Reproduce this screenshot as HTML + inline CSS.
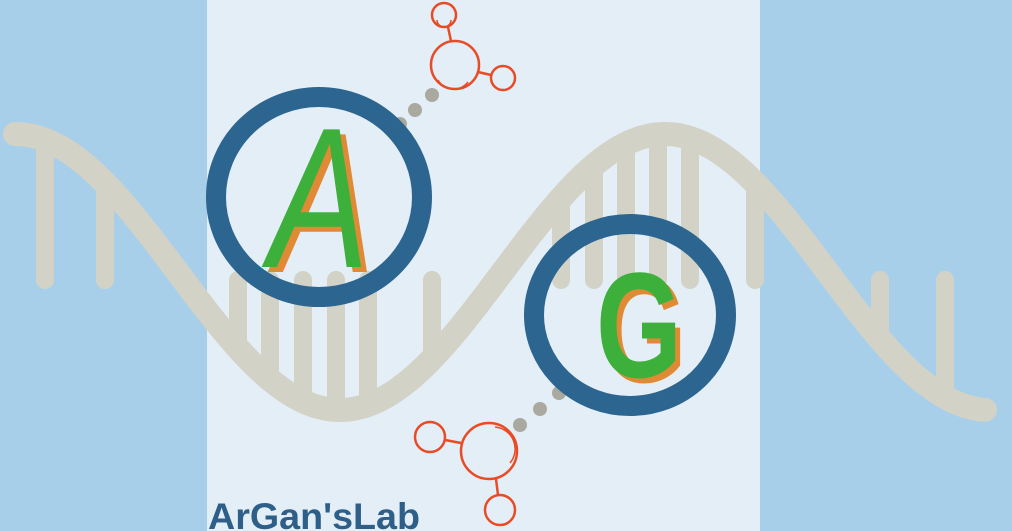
<!DOCTYPE html>
<html><head><meta charset="utf-8"><style>
html,body{margin:0;padding:0;width:1012px;height:531px;overflow:hidden;background:#a8cfea}
svg{display:block}
</style></head><body>
<svg width="1012" height="531" viewBox="0 0 1012 531">
<rect x="0" y="0" width="1012" height="531" fill="#a8cfea"/>
<rect x="207" y="0" width="553" height="531" fill="#e4eef7"/>
<g id="dna" stroke="#d3d2c7" stroke-linecap="round" fill="none"></g>
<g fill="none" stroke="#e84b25" stroke-width="2.5">
<line x1="448" y1="27" x2="451" y2="41"/><line x1="478" y1="72" x2="491" y2="75"/>
<circle cx="444" cy="15" r="12"/><circle cx="455" cy="65" r="24"/><circle cx="503" cy="78" r="12"/>
<path d="M437 20 A7 7 0 0 0 451 20" stroke-width="1.5"/>
<path d="M438 80 A18 18 0 0 0 468 82" stroke-width="1.5"/>
</g>
<g fill="#aaa99f">
<circle cx="432" cy="95" r="7"/><circle cx="415" cy="110" r="7"/><circle cx="400" cy="124" r="7"/>
</g>
<g fill="none" stroke="#e84b25" stroke-width="2.5">
<line x1="445" y1="440" x2="461" y2="443"/><line x1="496" y1="479" x2="498" y2="495"/>
<circle cx="430" cy="437" r="15"/><circle cx="489" cy="451" r="28"/><circle cx="500" cy="510" r="15"/>
<path d="M495 427 A22 22 0 0 1 510 463" stroke-width="1.5"/>
</g>
<g fill="#aaa99f">
<circle cx="559" cy="393" r="7"/><circle cx="540" cy="409" r="7"/><circle cx="520" cy="425" r="7"/>
</g>
<ellipse cx="319" cy="197" rx="103" ry="100" fill="none" stroke="#2c6590" stroke-width="20"/>
<ellipse cx="630" cy="315" rx="96" ry="91" fill="none" stroke="#2c6590" stroke-width="20"/>
<g font-family="Liberation Sans, sans-serif" font-style="italic">
<text x="275" y="272" font-size="200" fill="#e08a35" textLength="100" lengthAdjust="spacingAndGlyphs">A</text>
<text x="269" y="267" font-size="200" fill="#3cb03a" textLength="100" lengthAdjust="spacingAndGlyphs">A</text>
<text x="601" y="382" font-size="150" font-weight="bold" font-style="normal" fill="#e08a35" textLength="86" lengthAdjust="spacingAndGlyphs">G</text>
<text x="596" y="377" font-size="150" font-weight="bold" font-style="normal" fill="#3cb03a" textLength="86" lengthAdjust="spacingAndGlyphs">G</text>
</g>
<text x="208" y="529" font-family="Liberation Sans, sans-serif" font-weight="bold" font-size="37" fill="#2e5f88" textLength="212" lengthAdjust="spacingAndGlyphs">ArGan'sLab</text>
</svg>
<script>
const rungX = [45,105,238,270,303,336,368,432,561,594,626,658,690,755,880,945];
const g = document.getElementById('dna');
const ns = 'http://www.w3.org/2000/svg';
function strandY(x){ return 272 - 138*Math.cos(2*Math.PI*(x-15)/650); }
const mid = 280;
rungX.forEach(x=>{
  const l = document.createElementNS(ns,'line');
  
  
  l.setAttribute('x1',x); l.setAttribute('x2',x);
  l.setAttribute('y1',strandY(x)); l.setAttribute('y2',mid);
  l.setAttribute('stroke-width','18');
  g.appendChild(l);
});
let d='';
for(let x=15;x<=985;x+=5){ d += (x===15?'M':'L')+x+' '+strandY(x).toFixed(1)+' '; }
const p = document.createElementNS(ns,'path');


p.setAttribute('d',d); p.setAttribute('stroke-width','24');
g.appendChild(p);
</script>
</body></html>
